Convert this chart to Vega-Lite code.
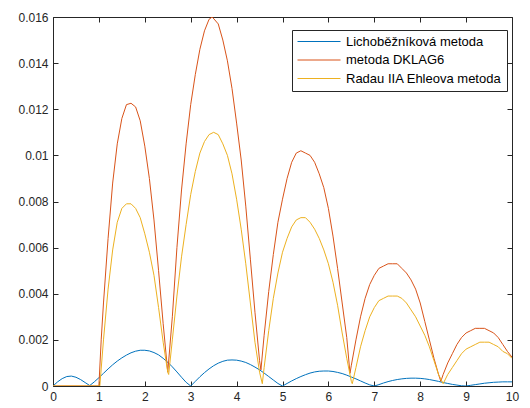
{
  "$schema": "https://vega.github.io/schema/vega-lite/v6.json",
  "width": 459,
  "height": 369,
  "autosize": "none",
  "padding": {"left": 53, "top": 17, "right": 18, "bottom": 22},
  "background": "white",
  "config": {
    "view": {"stroke": "#262626", "strokeWidth": 1},
    "axis": {
      "grid": false,
      "domain": false,
      "tickColor": "#262626",
      "tickSize": -5,
      "labelColor": "#262626",
      "labelFont": "Liberation Sans",
      "labelFontSize": 12,
      "title": null
    },
    "legend": {
      "labelFont": "Liberation Sans",
      "labelFontSize": 13,
      "labelColor": "#000000"
    }
  },
  "datasets": {
    "lich": [
      {"x":0,"y":0},{"x":0.1,"y":0.00018},{"x":0.2,"y":0.00032},{"x":0.3,"y":0.00041},{"x":0.4,"y":0.00043},{"x":0.5,"y":0.00038},{"x":0.6,"y":0.00028},{"x":0.7,"y":0.00015},{"x":0.8,"y":0.00002},{"x":0.9,"y":0.00018},
      {"x":1.0,"y":0.00036},{"x":1.1,"y":0.00055},{"x":1.2,"y":0.00074},{"x":1.3,"y":0.00092},{"x":1.4,"y":0.00108},{"x":1.5,"y":0.00122},{"x":1.6,"y":0.00134},{"x":1.7,"y":0.00144},{"x":1.8,"y":0.00151},{"x":1.9,"y":0.00155},
      {"x":2.0,"y":0.00155},{"x":2.1,"y":0.00152},{"x":2.2,"y":0.00145},{"x":2.3,"y":0.00135},{"x":2.4,"y":0.0012},{"x":2.5,"y":0.00103},{"x":2.6,"y":0.00083},{"x":2.7,"y":0.00061},{"x":2.8,"y":0.00038},{"x":2.9,"y":0.00016},
      {"x":3.0,"y":0},{"x":3.1,"y":0.0002},{"x":3.2,"y":0.0004},{"x":3.3,"y":0.00058},{"x":3.4,"y":0.00074},{"x":3.5,"y":0.00088},{"x":3.6,"y":0.00099},{"x":3.7,"y":0.00107},{"x":3.8,"y":0.00112},{"x":3.9,"y":0.00113},
      {"x":4.0,"y":0.00112},{"x":4.1,"y":0.00108},{"x":4.2,"y":0.00102},{"x":4.3,"y":0.00093},{"x":4.4,"y":0.00082},{"x":4.5,"y":0.0007},{"x":4.6,"y":0.00056},{"x":4.7,"y":0.00041},{"x":4.8,"y":0.00026},{"x":4.9,"y":0.00011},
      {"x":5.0,"y":0},{"x":5.1,"y":0.00011},{"x":5.2,"y":0.00022},{"x":5.3,"y":0.00032},{"x":5.4,"y":0.00041},{"x":5.5,"y":0.00049},{"x":5.6,"y":0.00056},{"x":5.7,"y":0.00061},{"x":5.8,"y":0.00064},{"x":5.9,"y":0.00065},
      {"x":6.0,"y":0.00065},{"x":6.1,"y":0.00063},{"x":6.2,"y":0.00059},{"x":6.3,"y":0.00054},{"x":6.4,"y":0.00047},{"x":6.5,"y":0.00039},{"x":6.6,"y":0.00031},{"x":6.7,"y":0.00022},{"x":6.8,"y":0.00013},{"x":6.9,"y":0.00005},
      {"x":7.0,"y":0},{"x":7.1,"y":0.00006},{"x":7.2,"y":0.00013},{"x":7.3,"y":0.00019},{"x":7.4,"y":0.00024},{"x":7.5,"y":0.00028},{"x":7.6,"y":0.00031},{"x":7.7,"y":0.00033},{"x":7.8,"y":0.00034},{"x":7.9,"y":0.00034},
      {"x":8.0,"y":0.00033},{"x":8.1,"y":0.00031},{"x":8.2,"y":0.00028},{"x":8.3,"y":0.00024},{"x":8.4,"y":0.0002},{"x":8.5,"y":0.00015},{"x":8.6,"y":0.00011},{"x":8.7,"y":0.00007},{"x":8.8,"y":0.00004},{"x":8.9,"y":0.00001},
      {"x":9.0,"y":0},{"x":9.1,"y":0.00003},{"x":9.2,"y":0.00006},{"x":9.3,"y":0.00009},{"x":9.4,"y":0.00012},{"x":9.5,"y":0.00014},{"x":9.6,"y":0.00016},{"x":9.7,"y":0.00017},{"x":9.8,"y":0.00018},{"x":9.9,"y":0.00018},{"x":10,"y":0.00018}
    ],
    "dklag": [
      {"x":0,"y":0},{"x":1,"y":0},{"x":1.05,"y":0.002},{"x":1.1,"y":0.0036},{"x":1.2,"y":0.0064},{"x":1.3,"y":0.0088},{"x":1.4,"y":0.0105},{"x":1.5,"y":0.0116},{"x":1.6,"y":0.0122},{"x":1.7,"y":0.01226},{"x":1.8,"y":0.0121},{"x":1.9,"y":0.0115},
      {"x":2.0,"y":0.0104},{"x":2.1,"y":0.009},{"x":2.2,"y":0.0072},{"x":2.3,"y":0.005},{"x":2.4,"y":0.0027},{"x":2.5,"y":0.0006},{"x":2.6,"y":0.003},{"x":2.7,"y":0.006},{"x":2.8,"y":0.0085},{"x":2.9,"y":0.0105},
      {"x":3.0,"y":0.0122},{"x":3.1,"y":0.0135},{"x":3.2,"y":0.0146},{"x":3.3,"y":0.0154},{"x":3.4,"y":0.0159},{"x":3.47,"y":0.016},{"x":3.6,"y":0.0157},{"x":3.7,"y":0.015},{"x":3.8,"y":0.0141},{"x":3.9,"y":0.0129},
      {"x":4.0,"y":0.0114},{"x":4.1,"y":0.0098},{"x":4.2,"y":0.0078},{"x":4.3,"y":0.0055},{"x":4.4,"y":0.0032},{"x":4.5,"y":0.0011},{"x":4.53,"y":0.0007},{"x":4.6,"y":0.0022},{"x":4.7,"y":0.0041},{"x":4.8,"y":0.0057},{"x":4.9,"y":0.0071},
      {"x":5.0,"y":0.0081},{"x":5.1,"y":0.009},{"x":5.2,"y":0.0097},{"x":5.3,"y":0.0101},{"x":5.4,"y":0.0102},{"x":5.5,"y":0.0101},{"x":5.6,"y":0.01},{"x":5.7,"y":0.0097},{"x":5.8,"y":0.0092},{"x":5.9,"y":0.0086},
      {"x":6.0,"y":0.0077},{"x":6.1,"y":0.0065},{"x":6.2,"y":0.0051},{"x":6.3,"y":0.0036},{"x":6.4,"y":0.0021},{"x":6.47,"y":0.00055},{"x":6.5,"y":0.0009},{"x":6.6,"y":0.002},{"x":6.7,"y":0.003},{"x":6.8,"y":0.0038},{"x":6.9,"y":0.0044},
      {"x":7.0,"y":0.0048},{"x":7.1,"y":0.0051},{"x":7.2,"y":0.0052},{"x":7.3,"y":0.0053},{"x":7.4,"y":0.0053},{"x":7.5,"y":0.0053},{"x":7.6,"y":0.0051},{"x":7.7,"y":0.0049},{"x":7.8,"y":0.0046},{"x":7.9,"y":0.0042},
      {"x":8.0,"y":0.0036},{"x":8.1,"y":0.0028},{"x":8.2,"y":0.002},{"x":8.3,"y":0.0012},{"x":8.4,"y":0.0005},{"x":8.45,"y":0.0002},{"x":8.5,"y":0.0005},{"x":8.6,"y":0.001},{"x":8.7,"y":0.0014},{"x":8.8,"y":0.0018},{"x":8.9,"y":0.0021},
      {"x":9.0,"y":0.0023},{"x":9.1,"y":0.0024},{"x":9.2,"y":0.0025},{"x":9.3,"y":0.0025},{"x":9.4,"y":0.0025},{"x":9.5,"y":0.0024},{"x":9.6,"y":0.0023},{"x":9.7,"y":0.0021},{"x":9.8,"y":0.0018},{"x":9.9,"y":0.0015},{"x":10,"y":0.00125}
    ],
    "radau": [
      {"x":0,"y":0},{"x":1.02,"y":0},{"x":1.1,"y":0.002},{"x":1.2,"y":0.0042},{"x":1.3,"y":0.0059},{"x":1.4,"y":0.0071},{"x":1.5,"y":0.0077},{"x":1.6,"y":0.0079},{"x":1.7,"y":0.0079},{"x":1.8,"y":0.0077},{"x":1.9,"y":0.0073},
      {"x":2.0,"y":0.0066},{"x":2.1,"y":0.0058},{"x":2.2,"y":0.0048},{"x":2.3,"y":0.0034},{"x":2.4,"y":0.0019},{"x":2.5,"y":0.0006},{"x":2.52,"y":0.0005},{"x":2.6,"y":0.002},{"x":2.7,"y":0.0039},{"x":2.8,"y":0.0056},{"x":2.9,"y":0.007},
      {"x":3.0,"y":0.0083},{"x":3.1,"y":0.0093},{"x":3.2,"y":0.0101},{"x":3.3,"y":0.0106},{"x":3.4,"y":0.0109},{"x":3.5,"y":0.011},{"x":3.6,"y":0.0109},{"x":3.7,"y":0.0105},{"x":3.8,"y":0.01},{"x":3.9,"y":0.0092},
      {"x":4.0,"y":0.0081},{"x":4.1,"y":0.0068},{"x":4.2,"y":0.0053},{"x":4.3,"y":0.0036},{"x":4.4,"y":0.0019},{"x":4.5,"y":0.0006},{"x":4.56,"y":0.0001},{"x":4.6,"y":0.0008},{"x":4.7,"y":0.0024},{"x":4.8,"y":0.0038},{"x":4.9,"y":0.0049},
      {"x":5.0,"y":0.0058},{"x":5.1,"y":0.0064},{"x":5.2,"y":0.0069},{"x":5.3,"y":0.0072},{"x":5.4,"y":0.0073},{"x":5.5,"y":0.0073},{"x":5.6,"y":0.0071},{"x":5.7,"y":0.0068},{"x":5.8,"y":0.0064},{"x":5.9,"y":0.0059},
      {"x":6.0,"y":0.0053},{"x":6.1,"y":0.0045},{"x":6.2,"y":0.0035},{"x":6.3,"y":0.0023},{"x":6.4,"y":0.0012},{"x":6.5,"y":0.0002},{"x":6.52,"y":0.0001},{"x":6.6,"y":0.0008},{"x":6.7,"y":0.0017},{"x":6.8,"y":0.0024},{"x":6.9,"y":0.003},
      {"x":7.0,"y":0.0034},{"x":7.1,"y":0.0037},{"x":7.2,"y":0.0038},{"x":7.3,"y":0.0039},{"x":7.4,"y":0.0039},{"x":7.5,"y":0.0039},{"x":7.6,"y":0.0038},{"x":7.7,"y":0.0036},{"x":7.8,"y":0.0033},{"x":7.9,"y":0.003},
      {"x":8.0,"y":0.0026},{"x":8.1,"y":0.0022},{"x":8.2,"y":0.0017},{"x":8.3,"y":0.0011},{"x":8.4,"y":0.0005},{"x":8.5,"y":0.0001},{"x":8.6,"y":0.0005},{"x":8.7,"y":0.0008},{"x":8.8,"y":0.0011},{"x":8.9,"y":0.0014},
      {"x":9.0,"y":0.0016},{"x":9.1,"y":0.0017},{"x":9.2,"y":0.0018},{"x":9.3,"y":0.0019},{"x":9.4,"y":0.0019},{"x":9.5,"y":0.0019},{"x":9.6,"y":0.0018},{"x":9.7,"y":0.0017},{"x":9.8,"y":0.0015},{"x":9.9,"y":0.0014},{"x":10,"y":0.0012}
    ]
  },
  "resolve": {"axis": {"x": "independent", "y": "independent"}},
  "layer": [
    {
      "data": {"name": "lich"},
      "mark": {"type": "line", "strokeWidth": 1, "clip": true},
      "encoding": {
        "x": {"field": "x", "type": "quantitative", "scale": {"domain": [0, 10], "nice": false, "zero": false},
              "axis": {"orient": "bottom", "values": [0,1,2,3,4,5,6,7,8,9,10], "labelPadding": 10, "labelFlush": false}},
        "y": {"field": "y", "type": "quantitative", "scale": {"domain": [0, 0.016], "nice": false},
              "axis": {"orient": "left", "values": [0,0.002,0.004,0.006,0.008,0.01,0.012,0.014,0.016], "format": "~g", "labelPadding": 10, "labelFlush": false}},
        "color": {
          "datum": "Lichoběžníková metoda",
          "scale": {"domain": ["Lichoběžníková metoda", "metoda DKLAG6", "Radau IIA Ehleova metoda"], "range": ["#0072BD", "#D95319", "#EDB120"]},
          "legend": {
            "title": null,
            "orient": "none",
            "legendX": 239,
            "legendY": 13,
            "strokeColor": "#262626",
            "fillColor": "white",
            "padding": 5,
            "rowPadding": 4.5,
            "symbolType": "M-1,0H6.17",
            "symbolSize": 144,
            "symbolStrokeWidth": 1,
            "labelOffset": 36
          }
        }
      }
    },
    {
      "data": {"name": "dklag"},
      "mark": {"type": "line", "strokeWidth": 1, "clip": true},
      "encoding": {
        "x": {"field": "x", "type": "quantitative", "axis": null},
        "y": {"field": "y", "type": "quantitative", "axis": null},
        "color": {"datum": "metoda DKLAG6"}
      }
    },
    {
      "data": {"name": "radau"},
      "mark": {"type": "line", "strokeWidth": 1, "clip": true},
      "encoding": {
        "x": {"field": "x", "type": "quantitative", "axis": null},
        "y": {"field": "y", "type": "quantitative", "axis": null},
        "color": {"datum": "Radau IIA Ehleova metoda"}
      }
    },
    {
      "data": {"name": "lich"},
      "mark": {"type": "point", "opacity": 0},
      "encoding": {
        "x": {"field": "x", "type": "quantitative", "axis": {"orient": "top", "labels": false, "values": [0,1,2,3,4,5,6,7,8,9,10]}},
        "y": {"field": "y", "type": "quantitative", "axis": {"orient": "right", "labels": false, "values": [0,0.002,0.004,0.006,0.008,0.01,0.012,0.014,0.016]}}
      }
    }
  ]
}
